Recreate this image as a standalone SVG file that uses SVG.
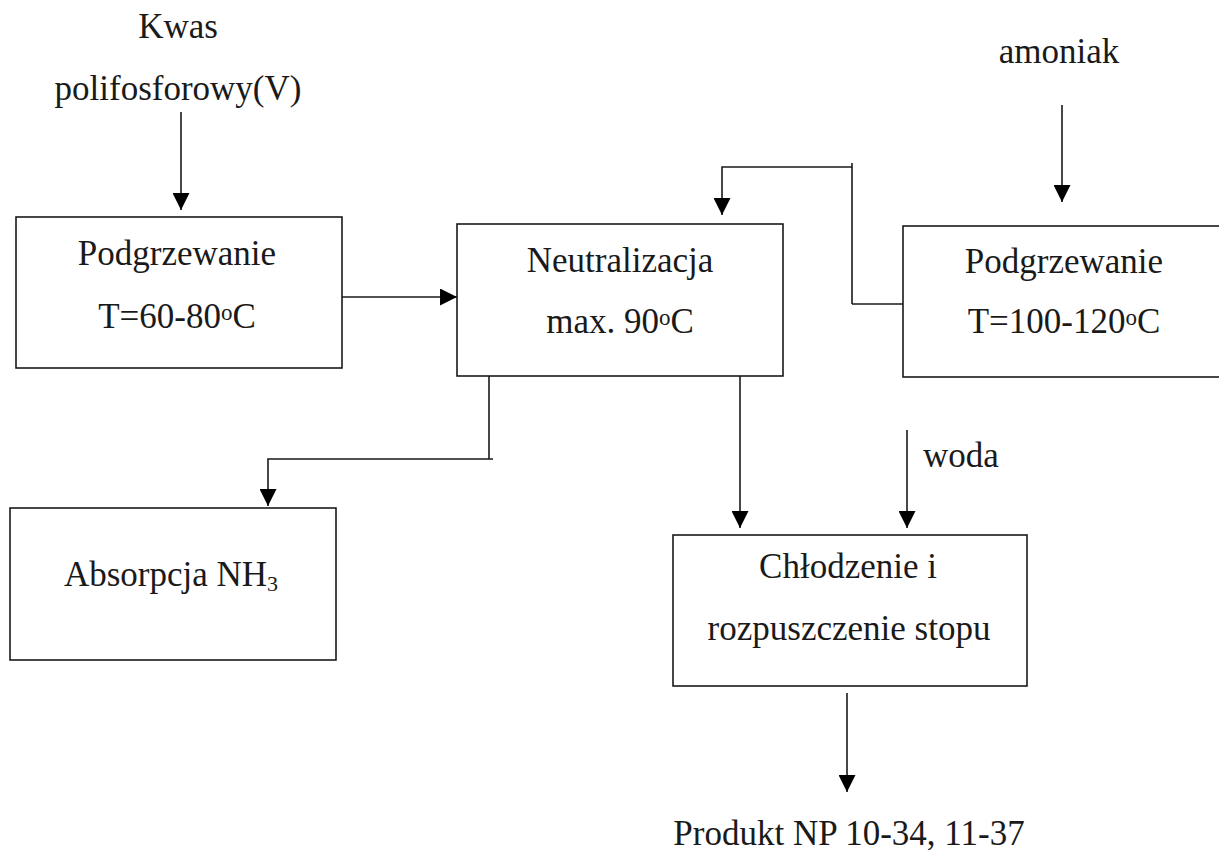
<svg xmlns="http://www.w3.org/2000/svg" width="1219" height="852" viewBox="0 0 1219 852">
<style>
  .box { fill: #ffffff; stroke: #1a1a1a; stroke-width: 1.6; }
  .t { font-family: "Liberation Serif", "Times New Roman", serif; font-size: 35px; fill: #1a1a1a; text-anchor: middle; }
  .tl { text-anchor: start; }
  .ln { fill: none; stroke: #1a1a1a; stroke-width: 1.6; }
  .deg { font-size: 23px; }
  .sub { font-size: 22px; }
</style>
<defs>
  <marker id="arr" viewBox="0 0 17 17" refX="17" refY="8.5" markerWidth="17" markerHeight="17" markerUnits="userSpaceOnUse" orient="auto">
    <path d="M0,0 L17,8.5 L0,17 Z" fill="#000000"/>
  </marker>
</defs>
<rect width="1219" height="852" fill="#ffffff"/>

<g id="connectors">
  <path class="ln" d="M181,112 V210" marker-end="url(#arr)"/>
  <path class="ln" d="M340,297 H457" marker-end="url(#arr)"/>
  <path class="ln" d="M903,304 H852 M852,163 V304 M852,167 H722 V215" marker-end="url(#arr)"/>
  <path class="ln" d="M1062,105 V202" marker-end="url(#arr)"/>
  <path class="ln" d="M489,376 V459 M493,459 H268 V506" marker-end="url(#arr)"/>
  <path class="ln" d="M740,376 V528" marker-end="url(#arr)"/>
  <path class="ln" d="M907,430 V528" marker-end="url(#arr)"/>
  <path class="ln" d="M847,693 V792" marker-end="url(#arr)"/>
</g>

<g id="input-kwas">
  <text class="t" x="178" y="38">Kwas</text>
  <text class="t" x="178" y="100">polifosforowy(V)</text>
</g>

<g id="input-amoniak">
  <text class="t" x="1059" y="63">amoniak</text>
</g>

<g id="node-podgrzewanie1">
  <rect class="box" x="16" y="217" width="326" height="151"/>
  <text class="t" x="177" y="265">Podgrzewanie</text>
  <text class="t" x="177" y="328">T=60-80<tspan class="deg" dy="-8">o</tspan><tspan dy="8">C</tspan></text>
</g>

<g id="node-neutralizacja">
  <rect class="box" x="457" y="224" width="326" height="152"/>
  <text class="t" x="620" y="272">Neutralizacja</text>
  <text class="t" x="620" y="333">max. 90<tspan class="deg" dy="-8">o</tspan><tspan dy="8">C</tspan></text>
</g>

<g id="node-podgrzewanie2">
  <rect class="box" x="903" y="226" width="330" height="151"/>
  <text class="t" x="1064" y="273">Podgrzewanie</text>
  <text class="t" x="1064" y="333">T=100-120<tspan class="deg" dy="-8">o</tspan><tspan dy="8">C</tspan></text>
</g>

<g id="node-absorpcja">
  <rect class="box" x="10" y="508" width="326" height="152"/>
  <text class="t" x="171" y="586">Absorpcja NH<tspan class="sub" dy="5">3</tspan></text>
</g>

<g id="input-woda">
  <text class="t tl" x="923" y="467">woda</text>
</g>

<g id="node-chlodzenie">
  <rect class="box" x="673" y="535" width="354" height="151"/>
  <text class="t" x="848" y="578">Chłodzenie i</text>
  <text class="t" x="849" y="640">rozpuszczenie stopu</text>
</g>

<g id="output-produkt">
  <text class="t" x="849" y="845">Produkt NP 10-34, 11-37</text>
</g>
</svg>
